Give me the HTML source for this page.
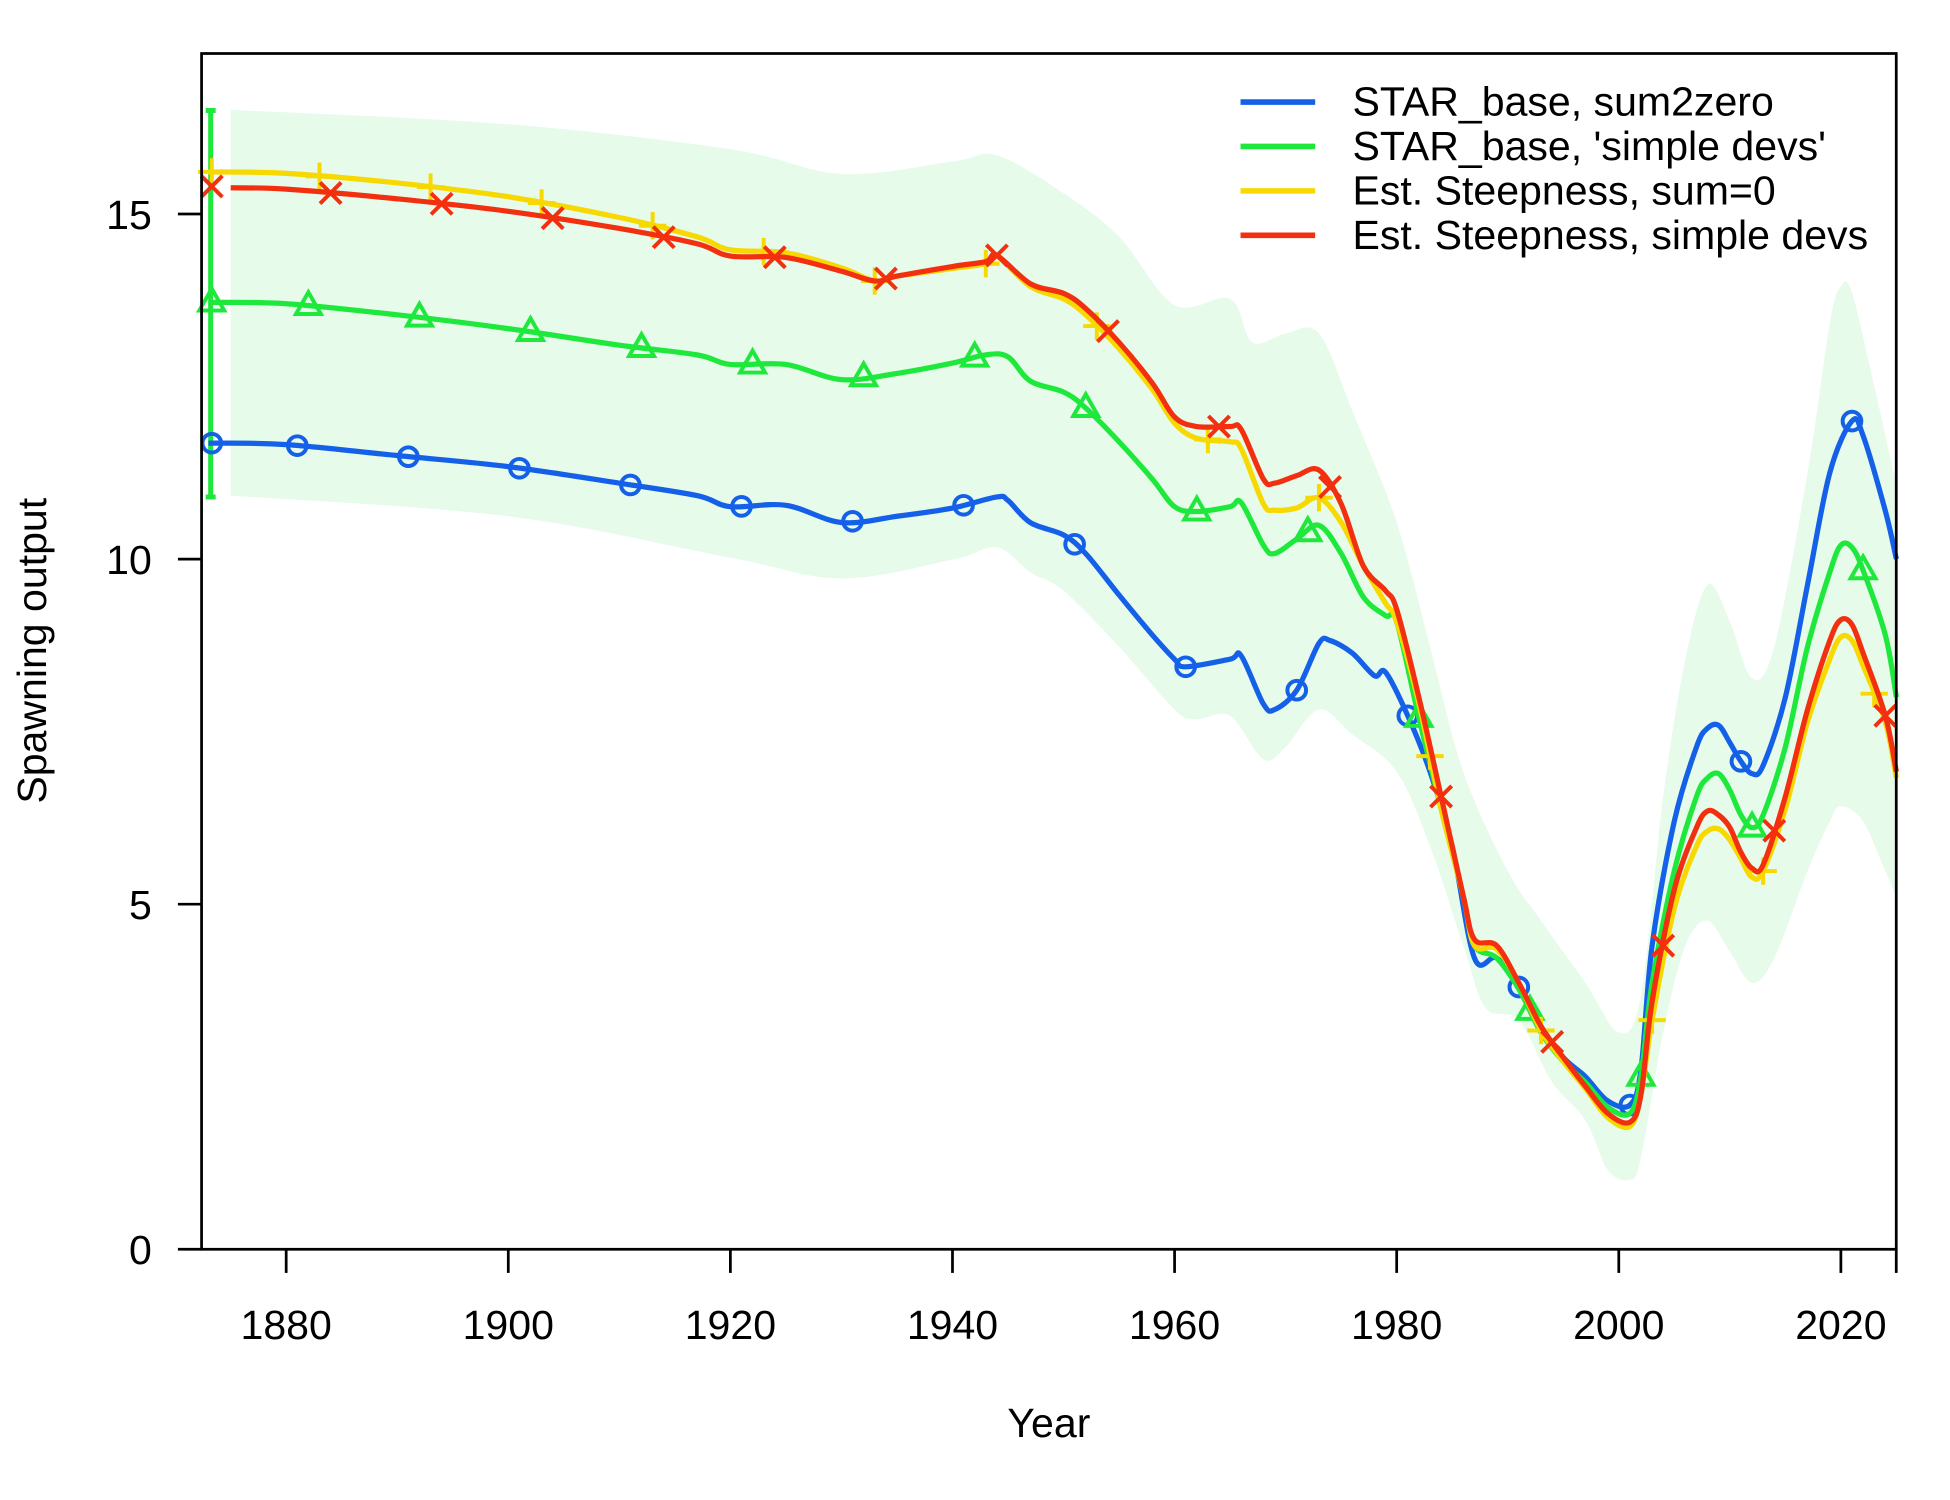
<!DOCTYPE html>
<html><head><meta charset="utf-8">
<style>
html,body{margin:0;padding:0;background:#fff;}
svg{display:block;font-family:"Liberation Sans",Arial,sans-serif;}
</style></head>
<body>
<svg id="chart" width="1950" height="1500" viewBox="0 0 1567.2 1205.5" preserveAspectRatio="none" xmlns="http://www.w3.org/2000/svg">
<rect width="1567.2" height="1205.5" fill="#fff"/>
<g id="band"></g>
<g id="lines"></g>
<g id="axes"></g>
<g id="legend"></g>
</svg>
<script>
const blueYears=[1873,1880,1890,1900,1910,1917,1920,1925,1930,1935,1940,1944,1945,1947,1950,1952,1955,1958,1960,1961,1965,1966,1968,1969,1971,1973,1974,1976,1978,1979,1981,1983,1985,1987,1989,1991,1993,1995,1997,1999,2001,2002,2003,2005,2007,2008,2009,2010,2011,2012,2013,2015,2017,2019,2021,2022,2024,2025];
const blueVals=[11.68,11.66,11.5,11.34,11.1,10.92,10.76,10.78,10.53,10.62,10.74,10.9,10.85,10.53,10.35,10.08,9.48,8.9,8.55,8.44,8.55,8.6,7.9,7.82,8.1,8.78,8.82,8.64,8.31,8.36,7.73,6.92,5.84,4.22,4.22,3.8,3.23,2.78,2.5,2.15,2.09,2.6,4.4,6.2,7.28,7.55,7.59,7.34,7.07,6.89,7.01,8.0,9.63,11.25,12.0,11.79,10.7,10.0];
const greenYears=[1873,1880,1890,1900,1910,1917,1920,1925,1930,1935,1940,1943,1945,1947,1950,1952,1955,1958,1960,1962,1965,1966,1968,1969,1971,1973,1975,1977,1979,1980,1982,1984,1986,1987,1989,1991,1993,1995,1997,1999,2001,2002,2003,2005,2007,2008,2009,2010,2011,2012,2013,2015,2017,2019,2020,2021,2022,2024,2025];
const greenVals=[13.72,13.7,13.54,13.34,13.1,12.96,12.82,12.82,12.6,12.69,12.84,12.96,12.93,12.58,12.42,12.19,11.7,11.16,10.76,10.69,10.76,10.82,10.2,10.08,10.29,10.49,10.08,9.45,9.18,9.09,7.7,6.38,5.12,4.4,4.22,3.77,3.14,2.72,2.42,2.06,1.97,2.5,3.86,5.48,6.56,6.83,6.89,6.65,6.29,6.11,6.29,7.28,8.73,9.81,10.2,10.17,9.84,8.9,8.0];
const yellowYears=[1873,1880,1890,1900,1910,1917,1920,1925,1930,1933,1935,1940,1943,1944,1947,1950,1952,1955,1958,1960,1962,1965,1966,1968,1969,1971,1973,1975,1977,1979,1980,1982,1984,1986,1987,1989,1991,1993,1995,1997,1999,2001,2002,2003,2005,2007,2008,2009,2010,2011,2012,2013,2015,2017,2019,2020,2021,2022,2024,2025];
const yellowVals=[15.61,15.59,15.45,15.25,14.95,14.67,14.48,14.44,14.22,14.03,14.1,14.21,14.28,14.39,13.95,13.77,13.54,13.05,12.46,11.97,11.75,11.7,11.6,10.8,10.71,10.74,10.89,10.53,9.9,9.36,9.09,7.91,6.38,5.12,4.4,4.35,3.86,3.17,2.72,2.33,1.91,1.78,2.24,3.32,4.94,5.84,6.06,6.09,5.93,5.66,5.39,5.48,6.38,7.64,8.55,8.87,8.82,8.46,7.64,6.83];
const redYears=[1875,1880,1890,1900,1910,1917,1920,1925,1930,1933,1935,1940,1943,1944,1947,1950,1952,1955,1958,1960,1962,1965,1966,1968,1969,1971,1973,1975,1977,1979,1980,1982,1984,1986,1987,1989,1991,1993,1995,1997,1999,2001,2002,2003,2005,2007,2008,2009,2010,2011,2012,2013,2015,2017,2019,2020,2021,2022,2024,2025];
const redVals=[15.38,15.36,15.22,15.04,14.79,14.57,14.39,14.37,14.17,14.03,14.1,14.24,14.31,14.4,13.99,13.85,13.63,13.14,12.55,12.06,11.92,11.92,11.88,11.16,11.1,11.21,11.29,10.8,9.9,9.54,9.27,8.0,6.56,5.12,4.49,4.4,3.86,3.23,2.78,2.36,1.97,1.84,2.24,3.59,5.21,6.11,6.35,6.29,6.11,5.75,5.52,5.57,6.56,7.82,8.82,9.12,9.05,8.64,7.73,6.92];
const redFirst=15.4;
const bandUpYears=[1875,1900,1920,1930,1940,1944,1950,1955,1960,1965,1967,1970,1973,1976,1980,1983,1986,1990,1993,1997,2000,2002,2004,2006,2008,2010,2012,2014,2017,2019,2020,2021,2023,2025];
const bandUpVals=[16.51,16.3,15.94,15.58,15.76,15.85,15.3,14.67,13.68,13.77,13.14,13.27,13.27,12.15,10.53,8.73,6.92,5.48,4.76,3.86,3.14,3.68,6.56,8.55,9.63,9.09,8.27,8.73,11.25,13.41,13.95,13.86,12.51,11.07];
const bandLoYears=[1875,1900,1920,1930,1940,1944,1947,1950,1955,1960,1962,1965,1968,1970,1973,1976,1980,1983,1986,1988,1991,1994,1997,1999,2001,2002,2004,2006,2008,2010,2012,2014,2017,2019,2020,2022,2024,2025];
const bandLoVals=[10.92,10.62,10.02,9.72,9.99,10.17,9.81,9.54,8.73,7.82,7.68,7.73,7.1,7.28,7.82,7.46,6.92,5.84,4.4,3.5,3.32,2.42,1.87,1.15,1.01,1.33,3.14,4.4,4.76,4.31,3.86,4.22,5.48,6.2,6.42,6.2,5.48,5.12];
const xTicks=[1880,1900,1920,1940,1960,1980,2000,2020];
const yTicks=[0,5,10,15];
const legendLabels=["STAR_base, sum2zero","STAR_base, 'simple devs'","Est. Steepness, sum=0","Est. Steepness, simple devs"];
const errBar=[10.9,16.5];

const NS="http://www.w3.org/2000/svg";
const L=162,R=1524,T=43,B=1004;
function xs(y){return 230+(y-1880)*(1301-230)/120;}
function ys(v){return 1004-v*(1004-172)/15;}
function mk(tag,attrs,parent){const e=document.createElementNS(NS,tag);for(const k in attrs)e.setAttribute(k,attrs[k]);parent.appendChild(e);return e;}
function interp(yrs,vals,t){if(t<=yrs[0])return vals[0];for(let i=1;i<yrs.length;i++){if(t<=yrs[i]){const f=(t-yrs[i-1])/(yrs[i]-yrs[i-1]);return vals[i-1]+f*(vals[i]-vals[i-1]);}}return vals[vals.length-1];}
function smooth(p){
 let d="M"+p[0][0].toFixed(1)+","+p[0][1].toFixed(1);
 for(let i=0;i<p.length-1;i++){
  const p0=p[i-1]||p[i],p1=p[i],p2=p[i+1],p3=p[i+2]||p2;
  const c1=[p1[0]+(p2[0]-p0[0])/6,p1[1]+(p2[1]-p0[1])/6];
  const c2=[p2[0]-(p3[0]-p1[0])/6,p2[1]-(p3[1]-p1[1])/6];
  d+=" C"+c1[0].toFixed(1)+","+c1[1].toFixed(1)+" "+c2[0].toFixed(1)+","+c2[1].toFixed(1)+" "+p2[0].toFixed(1)+","+p2[1].toFixed(1);
 }
 return d;
}

// band
const bandG=document.getElementById('band');
let bp=bandUpYears.map((y,i)=>[xs(y),ys(bandUpVals[i])]);
let lp=bandLoYears.map((y,i)=>[xs(y),ys(bandLoVals[i])]);
const bd=smooth(bp)+" L"+smooth(lp.slice().reverse()).slice(1)+" Z";
const band=mk('path',{d:bd,fill:"#e6fbe9",stroke:"none"},bandG);



const series=[
 {name:'blue',yrs:blueYears,vals:blueVals,col:'#1560e8',mark:'circle',start:1881,first:blueVals[0]},
 {name:'green',yrs:greenYears,vals:greenVals,col:'#1ee83c',mark:'tri',start:1882,first:greenVals[0]},
 {name:'yellow',yrs:yellowYears,vals:yellowVals,col:'#f7d800',mark:'plus',start:1883,first:yellowVals[0]},
 {name:'red',yrs:redYears,vals:redVals,col:'#f2300f',mark:'x',start:1884,first:redFirst}
];
const lg=document.getElementById('lines');
const ebx=xs(1873.2);
const eb=mk('g',{stroke:'#1ee83c','stroke-width':4},lg);


mk('line',{x1:ebx,x2:ebx,y1:ys(errBar[0]),y2:ys(errBar[1])},eb);
mk('line',{x1:ebx-4,x2:ebx+4,y1:ys(errBar[0]),y2:ys(errBar[0])},eb);
mk('line',{x1:ebx-4,x2:ebx+4,y1:ys(errBar[1]),y2:ys(errBar[1])},eb);

function marker(g,type,x,y,col){
 const s=8.5;
 if(type==='circle')mk('circle',{cx:x,cy:y,r:7.5,fill:'none',stroke:col,'stroke-width':3.2},g);
 else if(type==='tri')mk('polygon',{points:`${x},${y-11} ${x-10},${y+6.5} ${x+10},${y+6.5}`,fill:'none',stroke:col,'stroke-width':3.2},g);
 else if(type==='plus'){mk('line',{x1:x-11,x2:x+11,y1:y,y2:y,stroke:col,'stroke-width':3.2},g);mk('line',{x1:x,x2:x,y1:y-11,y2:y+11,stroke:col,'stroke-width':3.2},g);}
 else {mk('line',{x1:x-s,x2:x+s,y1:y-s,y2:y+s,stroke:col,'stroke-width':3.2},g);mk('line',{x1:x-s,x2:x+s,y1:y+s,y2:y-s,stroke:col,'stroke-width':3.2},g);}
}
series.forEach(s=>{
 const g=mk('g',{},lg);
 
 
 const pl=mk('path',{d:smooth(s.yrs.map((y,i)=>[xs(y),ys(s.vals[i])])),fill:'none',stroke:s.col,'stroke-width':4.2,'stroke-linejoin':'round'},g);
 
 
 marker(g,s.mark,xs(1873.3),ys(s.first),s.col);
 for(let y=s.start;y<=2025;y+=10)marker(g,s.mark,xs(y),ys(interp(s.yrs,s.vals,y)),s.col);
});

// axes
const ax=document.getElementById('axes');
const box=mk('rect',{x:L,y:T,width:R-L,height:B-T,fill:'none',stroke:'#000','stroke-width':2.2},ax);


xTicks.forEach(t=>{
 mk('line',{x1:xs(t),x2:xs(t),y1:B,y2:B+19,stroke:'#000','stroke-width':2.2},ax);
 const tx=mk('text',{x:xs(t),y:1076,'font-size':33,'text-anchor':'middle'},ax);
 tx.textContent=t;
 
 
});
mk('line',{x1:R,x2:R,y1:B,y2:B+19,stroke:'#000','stroke-width':2.2},ax);
yTicks.forEach(t=>{
 mk('line',{x1:L,x2:L-19,y1:ys(t),y2:ys(t),stroke:'#000','stroke-width':2.2},ax);
 const tx=mk('text',{x:122,y:ys(t)+12,'font-size':33,'text-anchor':'end'},ax);
 tx.textContent=t;
 
 
});
const xt=mk('text',{x:843,y:1155,'font-size':33,'text-anchor':'middle'},ax);
xt.textContent='Year';


const yt=mk('text',{x:0,y:0,'font-size':33,'text-anchor':'middle',transform:'translate(37,523) rotate(-90)'},ax);
yt.textContent='Spawning output';



// legend
const lgd=document.getElementById('legend');
legendLabels.forEach((lab,i)=>{
 const y=82+i*35.7;
 const g=mk('g',{},lgd);
 
 
 mk('line',{x1:997,x2:1057,y1:y,y2:y,stroke:series[i].col,'stroke-width':4.5},g);
 const t=mk('text',{x:1087,y:y+11,'font-size':33},g);
 t.textContent=lab;
});
</script>
</body></html>
